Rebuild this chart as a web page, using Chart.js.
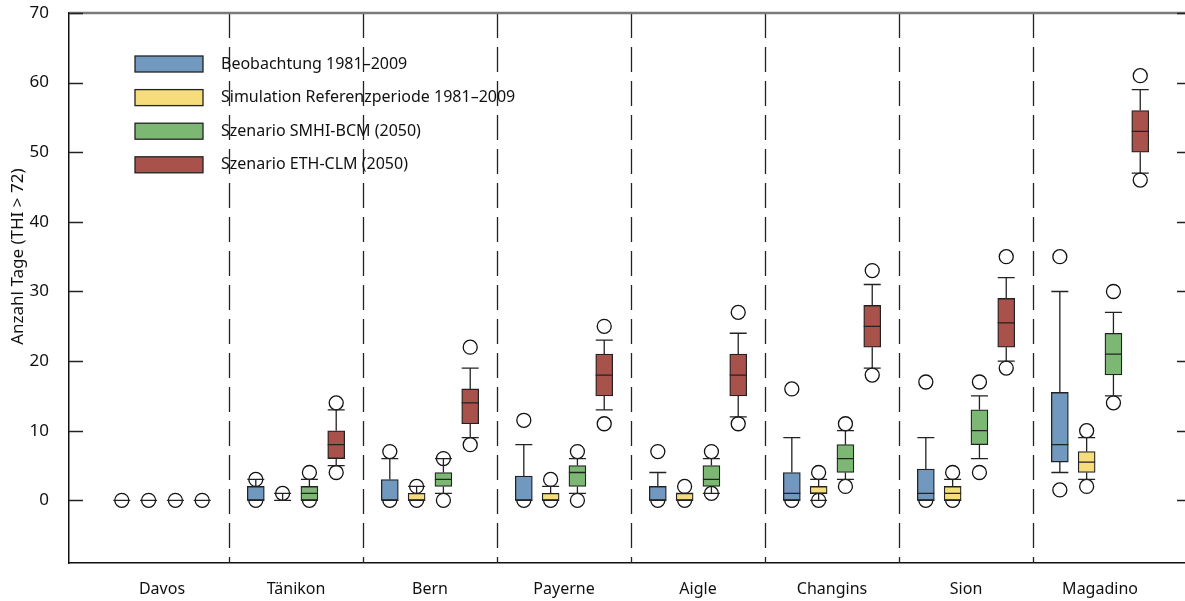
<!DOCTYPE html>
<html>
<head>
<meta charset="utf-8">
<script src="https://cdn.jsdelivr.net/npm/chart.js@4.4.0/dist/chart.umd.min.js"></script>
<style>
  html, body { margin: 0; padding: 0; background: #fff; }
  #wrap { width: 1185px; height: 601px; }
</style>
</head>
<body>
<div id="wrap"><canvas id="chart"></canvas></div>
<script>
// stations along the x axis
var stations = ['Davos', 'Tänikon', 'Bern', 'Payerne', 'Aigle', 'Changins', 'Sion', 'Magadino'];
var seriesNames = ['Beobachtung 1981–2009', 'Simulation Referenzperiode 1981–2009',
                   'Szenario SMHI-BCM (2050)', 'Szenario ETH-CLM (2050)'];
var seriesColors = ['#7199c0', '#f6dc7b', '#7cb874', '#a9524b'];
var yTicks = [0, 10, 20, 30, 40, 50, 60, 70];

// [whisker low, q1, median, q3, whisker high] per station
var beobachtung = [[0,0,0,0,0], [0,0,0,2,3], [0,0,0,3,6], [0,0,0,3.5,8],
                   [0,0,0,2,4], [0,0,1,4,9], [0,0,1,4.5,9], [4,5.5,8,15.5,30]];
var simulation  = [[0,0,0,0,0], [0,0,0,0,1], [0,0,0,1,2], [0,0,0,1,2],
                   [0,0,0,1,1], [0,1,1,2,3], [0,0,1,2,3], [3,4,5.5,7,9]];
var smhi        = [[0,0,0,0,0], [0,0,1,2,3], [1,2,3,4,6], [1,2,4,5,6],
                   [1,2,3,5,6], [3,4,6,8,10], [6,8,10,13,15], [15,18,21,24,27]];
var eth         = [[0,0,0,0,0], [5,6,8,10,13], [9,11,14,16,19], [13,15,18,21,23],
                   [12,15,18,21,24], [19,22,25,28,31], [20,22,25.5,29,32], [47,50,53,56,59]];

// outliers per station
var beobachtungOut = [[0], [3,0], [7,0], [11.5,0], [7,0], [16,0], [17,0], [35,1.5]];
var simulationOut  = [[0], [1], [2,0], [3,0], [2,0], [4,0], [4,0], [10,2]];
var smhiOut        = [[0], [4,0], [6,0], [7,0], [7,1], [11,2], [17,4], [30,14]];
var ethOut         = [[0], [14,4], [22,8], [25,11], [27,11], [33,18], [35,19], [61,46]];

var stats = [beobachtung, simulation, smhi, eth];
var outliers = [beobachtungOut, simulationOut, smhiOut, ethOut];
var offsets = [-0.3, -0.1, 0.1, 0.3];
var BOX_W = 17;
var FONT = "'Noto Sans', sans-serif";

var datasets = [];
stats.forEach(function (rows, s) {
  datasets.push({
    type: 'bar',
    label: seriesNames[s],
    data: rows.map(function (r, i) { return { x: i + offsets[s], y: [r[1], r[3]] }; }),
    backgroundColor: seriesColors[s],
    borderColor: '#222',
    borderWidth: 1.3,
    borderSkipped: false,
    barThickness: BOX_W,
    grouped: false,
    order: 0
  });
});
outliers.forEach(function (rows, s) {
  var pts = [];
  rows.forEach(function (vals, i) {
    vals.forEach(function (v) { pts.push({ x: i + offsets[s], y: v }); });
  });
  datasets.push({
    type: 'scatter',
    label: seriesNames[s] + ' (Ausreisser)',
    data: pts,
    pointRadius: 7,
    pointBackgroundColor: 'rgba(0,0,0,0)',
    pointBorderColor: '#111',
    pointBorderWidth: 1.3,
    order: 1
  });
});

function noPadding(scale) {
  scale.paddingTop = 0;
  scale.paddingBottom = 0;
  scale.paddingLeft = 0;
  scale.paddingRight = 0;
}

var boxExtras = {
  id: 'boxExtras',
  beforeDatasetsDraw: function (chart) {
    var ctx = chart.ctx, x = chart.scales.x, a = chart.chartArea;
    ctx.save();
    // dashed separators between stations
    ctx.strokeStyle = '#222';
    ctx.lineWidth = 1.3;
    ctx.setLineDash([25, 9]);
    for (var i = 0; i < stations.length - 1; i++) {
      var px = Math.round(x.getPixelForValue(i + 0.5)) + 0.5;
      ctx.beginPath();
      ctx.moveTo(px, a.top);
      ctx.lineTo(px, a.bottom);
      ctx.stroke();
    }
    ctx.setLineDash([]);
    // grey top frame
    ctx.strokeStyle = '#7a7a7a';
    ctx.lineWidth = 2.5;
    ctx.beginPath();
    ctx.moveTo(a.left, a.top);
    ctx.lineTo(a.right, a.top);
    ctx.stroke();
    ctx.restore();
  },
  afterDatasetsDraw: function (chart) {
    var ctx = chart.ctx, x = chart.scales.x, y = chart.scales.y, a = chart.chartArea;
    var half = BOX_W / 2;
    ctx.save();
    ctx.strokeStyle = '#222';
    ctx.lineWidth = 1.3;
    stats.forEach(function (rows, s) {
      rows.forEach(function (r, i) {
        var cx = x.getPixelForValue(i + offsets[s]);
        var yLo = y.getPixelForValue(r[0]), yQ1 = y.getPixelForValue(r[1]);
        var yMed = y.getPixelForValue(r[2]), yQ3 = y.getPixelForValue(r[3]);
        var yHi = y.getPixelForValue(r[4]);
        ctx.beginPath();
        ctx.moveTo(cx, yQ3); ctx.lineTo(cx, yHi);
        ctx.moveTo(cx - half, yHi); ctx.lineTo(cx + half, yHi);
        ctx.moveTo(cx, yQ1); ctx.lineTo(cx, yLo);
        ctx.moveTo(cx - half, yLo); ctx.lineTo(cx + half, yLo);
        ctx.moveTo(cx - half, yMed); ctx.lineTo(cx + half, yMed);
        ctx.stroke();
      });
    });
    // tick marks inside the frame, left and right
    ctx.beginPath();
    yTicks.forEach(function (v) {
      var py = Math.round(y.getPixelForValue(v)) + 0.5;
      ctx.moveTo(a.left, py); ctx.lineTo(a.left + 14, py);
      ctx.moveTo(a.right - 8, py); ctx.lineTo(a.right, py);
    });
    ctx.stroke();
    // legend
    ctx.font = '16px ' + FONT;
    ctx.textBaseline = 'middle';
    ctx.textAlign = 'left';
    seriesNames.forEach(function (name, s) {
      var cy = 64 + s * 33.6;
      ctx.fillStyle = seriesColors[s];
      ctx.fillRect(135, cy - 8, 68, 16);
      ctx.strokeStyle = '#222';
      ctx.strokeRect(135, cy - 8, 68, 16);
      ctx.fillStyle = '#111';
      ctx.fillText(name, 221, cy);
    });
    // y axis title, centred on the 0..70 range
    var ty = (y.getPixelForValue(0) + y.getPixelForValue(70)) / 2;
    ctx.translate(18, ty);
    ctx.rotate(-Math.PI / 2);
    ctx.textAlign = 'center';
    ctx.font = '17px ' + FONT;
    ctx.fillText('Anzahl Tage (THI > 72)', 0, 0);
    ctx.restore();
  }
};

new Chart(document.getElementById('chart'), {
  type: 'bar',
  data: { datasets: datasets },
  options: {
    responsive: true,
    maintainAspectRatio: false,
    animation: false,
    events: [],
    layout: { autoPadding: false, padding: { top: 13, right: 0, left: 0, bottom: 0 } },
    plugins: { legend: { display: false }, tooltip: { enabled: false } },
    scales: {
      x: {
        type: 'linear',
        offset: false,
        min: -0.694,
        max: 7.634,
        grid: { display: false },
        border: { display: true, color: '#111', width: 1.5 },
        afterBuildTicks: function (scale) {
          scale.ticks = stations.map(function (n, i) { return { value: i }; });
        },
        afterFit: function (scale) { scale.height = 38; noPadding(scale); },
        ticks: {
          autoSkip: false,
          maxRotation: 0,
          padding: 9,
          color: '#111',
          font: { family: FONT, size: 16 },
          callback: function (v) { return stations[v]; }
        }
      },
      y: {
        min: -9,
        max: 70,
        grid: { display: false },
        border: { display: true, color: '#111', width: 1.5 },
        afterBuildTicks: function (scale) {
          scale.ticks = yTicks.map(function (v) { return { value: v }; });
        },
        afterFit: function (scale) { scale.width = 69; noPadding(scale); },
        ticks: {
          padding: 12,
          color: '#111',
          font: { family: FONT, size: 17 }
        }
      }
    }
  },
  plugins: [boxExtras]
});
</script>
</body>
</html>
